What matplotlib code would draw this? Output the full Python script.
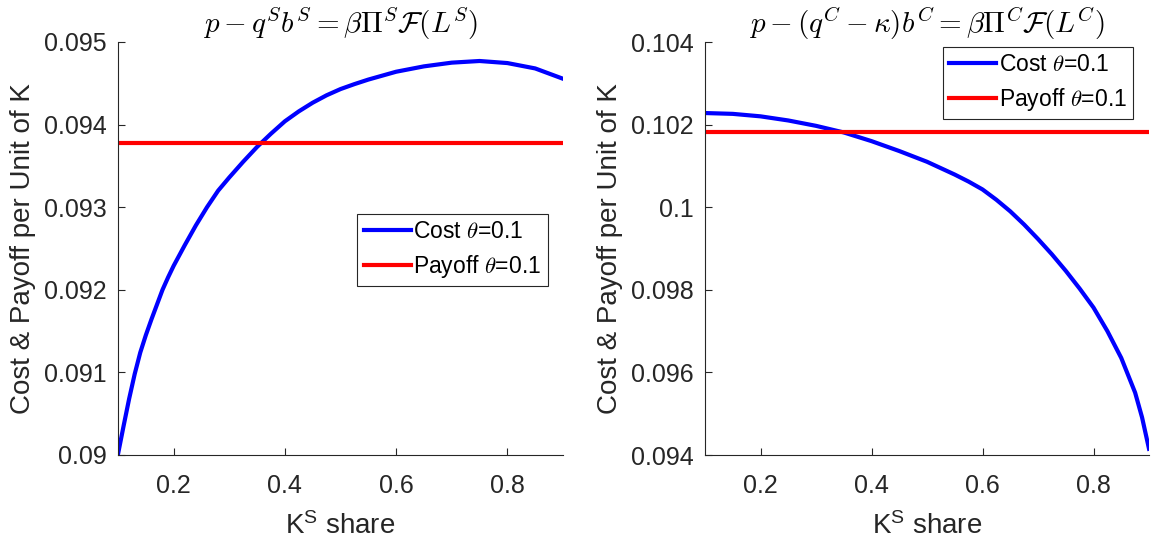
import matplotlib
matplotlib.use("Agg")
import matplotlib.pyplot as plt
from matplotlib.ticker import FuncFormatter, FixedLocator

plt.rcParams['font.family'] = ['Liberation Sans', 'DejaVu Sans']
plt.rcParams['mathtext.fontset'] = 'cm'
plt.rcParams['mathtext.rm'] = 'Liberation Sans'
plt.rcParams['mathtext.it'] = 'Liberation Sans:italic'
plt.rcParams['mathtext.bf'] = 'Liberation Sans:bold'

# ---- data ----
ks_S = [0.100, 0.110, 0.120, 0.130, 0.140, 0.150, 0.160, 0.170, 0.180, 0.190, 0.200,
        0.220, 0.240, 0.260, 0.280, 0.300, 0.325, 0.350, 0.375, 0.400, 0.425, 0.450,
        0.475, 0.500, 0.525, 0.550, 0.600, 0.650, 0.700, 0.750, 0.800, 0.850, 0.900]
cost_S = [0.09001, 0.09035, 0.09068, 0.09098, 0.09124, 0.09145, 0.09164, 0.09182,
          0.09200, 0.09215, 0.09229, 0.09254, 0.09278, 0.09300, 0.09320, 0.09336,
          0.09355, 0.09373, 0.09389, 0.09404, 0.09416, 0.094265, 0.094355, 0.09443,
          0.09449, 0.094545, 0.09464, 0.094705, 0.09475, 0.09477, 0.094745, 0.09468,
          0.094555]
payoff_S = 0.09378

ks_C = [0.100, 0.150, 0.200, 0.250, 0.300, 0.350, 0.400, 0.450, 0.500, 0.550, 0.575,
        0.600, 0.625, 0.650, 0.675, 0.700, 0.725, 0.750, 0.775, 0.800, 0.825, 0.850,
        0.875, 0.8875, 0.900]
cost_C = [0.10228, 0.10226, 0.10220, 0.10210, 0.10197, 0.10181, 0.10160, 0.10136,
          0.10110, 0.10079, 0.10062, 0.10043, 0.10018, 0.09990, 0.09958, 0.09923,
          0.09886, 0.09846, 0.09803, 0.09757, 0.09700, 0.09635, 0.09551, 0.09491,
          0.09415]
payoff_C = 0.10182

x_ticks = [0.2, 0.4, 0.6, 0.8]
yticks_S = [0.090, 0.091, 0.092, 0.093, 0.094, 0.095]
yticks_C = [0.094, 0.096, 0.098, 0.100, 0.102, 0.104]

titles = [r'$p - q^S b^S = \beta\Pi^S\mathcal{F}(L^S)$',
          r'$p - (q^C - \kappa)b^C = \beta\Pi^C\mathcal{F}(L^C)$']
legend_labels = [r'Cost $\theta$=0.1', r'Payoff $\theta$=0.1']
ylabel = 'Cost & Payoff per Unit of K'

W, H = 1151, 548
fig = plt.figure(figsize=(W / 100, H / 100), dpi=100)
gray = '#262626'

def make_ax(left_px, right_px, ks, cost, payoff, yticks, title, leg_anchor):
    top_px, bot_px = 42, 455
    ax = fig.add_axes([left_px / W, 1 - bot_px / H, (right_px - left_px) / W, (bot_px - top_px) / H])
    ax.plot(ks, cost, color='#0000ff', lw=3.0, label=legend_labels[0])
    ax.plot([ks[0], ks[-1]], [payoff, payoff], color='#ff0000', lw=3.0, label=legend_labels[1])
    ax.set_xlim(0.1, 0.9)
    ax.set_ylim(yticks[0], yticks[-1])
    ax.xaxis.set_major_locator(FixedLocator(x_ticks))
    ax.yaxis.set_major_locator(FixedLocator(yticks))
    ax.yaxis.set_major_formatter(FuncFormatter(lambda v, p: ('%.4g' % v)))
    ax.xaxis.set_major_formatter(FuncFormatter(lambda v, p: ('%g' % v)))
    for s in ['top', 'right']:
        ax.spines[s].set_visible(False)
    for s in ['left', 'bottom']:
        ax.spines[s].set_color(gray)
        ax.spines[s].set_linewidth(0.8)
    ax.tick_params(direction='in', length=5, width=0.8, colors=gray, labelsize=18,
                   labelcolor=gray)
    ax.tick_params(axis='x', pad=14)
    ax.tick_params(axis='y', pad=8)
    ax.set_title(title, fontsize=21, pad=6, color='black')
    ax.set_ylabel(ylabel, fontsize=20, color=gray, labelpad=6)
    ax.set_xlabel(r'K$^{\mathrm{S}}$ share', fontsize=20, color=gray,
                  math_fontfamily='custom', labelpad=10)
    leg = ax.legend(loc='upper right', bbox_to_anchor=leg_anchor, fontsize=16.5,
                    frameon=True, fancybox=False, framealpha=1, edgecolor=gray,
                    borderaxespad=0, handlelength=2.05, handletextpad=0.12,
                    labelspacing=0.42, borderpad=0.28)
    leg.get_frame().set_linewidth(0.8)
    return ax, leg

make_ax(118, 563, ks_S, cost_S, payoff_S, yticks_S, titles[0], (0.966, 0.5835))
make_ax(705, 1149, ks_C, cost_C, payoff_C, yticks_C, titles[1], (0.965, 0.989))

fig.savefig('out.png', dpi=100)
